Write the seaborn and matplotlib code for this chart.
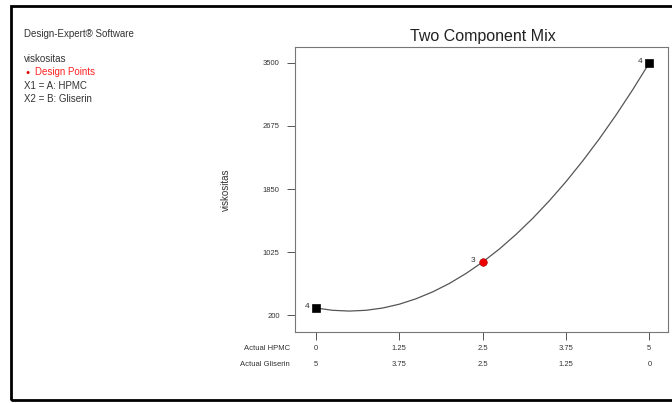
import matplotlib
matplotlib.use("Agg")
import matplotlib.pyplot as plt
import matplotlib.transforms as mtransforms
from matplotlib.patches import Rectangle
import seaborn as sns
import pandas as pd

# ---- data ----
hpmc_ticks = [0, 1.25, 2.5, 3.75, 5]
hpmc_labels = ["0", "1.25", "2.5", "3.75", "5"]
gliserin_labels = ["5", "3.75", "2.5", "1.25", "0"]
y_ticks = [200, 1025, 1850, 2675, 3500]

curve_x = [0, 0.25, 0.5, 0.75, 1, 1.25, 1.5, 1.75, 2, 2.25, 2.5,
           2.75, 3, 3.25, 3.5, 3.75, 4, 4.25, 4.5, 4.75, 5]
curve_y = [292, 262, 252, 262, 292, 342, 413, 503, 613, 744, 894,
           1064, 1255, 1465, 1696, 1946, 2217, 2507, 2818, 3149, 3500]

pts_x = [0, 5]
pts_y = [292, 3500]
pts_n = ["4", "4"]
red_x = [2.5]
red_y = [894]
red_n = ["3"]

sns.set_style("white")
plt.rcParams['font.family'] = ['Liberation Sans', 'DejaVu Sans']

fig = plt.figure(figsize=(6.72, 4.03), dpi=100)
ax = fig.add_axes([295/672, 1-332/403, (668-295)/672, (332-47)/403])

df_curve = pd.DataFrame({"x": curve_x, "y": curve_y})
sns.lineplot(data=df_curve, x="x", y="y", ax=ax, color="#555555", lw=0.9,
             sort=True, estimator=None)
sns.scatterplot(x=pts_x, y=pts_y, ax=ax, marker="s", color="black", s=36,
                edgecolor="black", zorder=5)
sns.scatterplot(x=red_x, y=red_y, ax=ax, marker="o", color="#ee0000", s=30,
                edgecolor="#aa0000", zorder=5)
for x, y, n in zip(pts_x + red_x, pts_y + red_y, pts_n + red_n):
    ax.annotate(n, (x, y), xytext=(-5, 1), textcoords="offset points",
                ha="right", va="center", fontsize=6, color="#333333")

ax.set_xlim(-0.315, 5.28)
ax.set_ylim(-22, 3709)
ax.set_xticks(hpmc_ticks)
ax.set_xticklabels(hpmc_labels, fontsize=5.5, color="#333333")
ax.set_yticks(y_ticks)
ax.set_yticklabels([str(v) for v in y_ticks], fontsize=5.5, color="#333333")
ax.tick_params(axis="both", bottom=True, left=True, direction="out",
               length=6, width=0.7, color="#555555")
ax.tick_params(axis="y", pad=5)
ax.tick_params(axis="x", pad=3)
for s in ax.spines.values():
    s.set_color("#777777")
    s.set_linewidth(0.8)
ax.set_xlabel("")
ax.set_ylabel("viskositas", fontsize=7, color="#333333", labelpad=23)

trans = mtransforms.blended_transform_factory(ax.transData, fig.transFigure)
for x, lab in zip(hpmc_ticks, gliserin_labels):
    ax.text(x, 1-364/403, lab, transform=trans, ha="center", va="center",
            fontsize=5.5, color="#333333")
fig.text(290/672, 1-348/403, "Actual HPMC", ha="right", va="center",
         fontsize=5.5, color="#333333")
fig.text(290/672, 1-364/403, "Actual Gliserin", ha="right", va="center",
         fontsize=5.5, color="#333333")

fig.text(483/672, 1-37/403, "Two Component Mix", ha="center", va="center",
         fontsize=11.5, color="#222222")

left_lines = [("Design-Expert\u00ae Software", 34, "#333333"),
              ("viskositas", 59, "#333333"),
              ("X1 = A: HPMC", 86, "#333333"),
              ("X2 = B: Gliserin", 99, "#333333")]
for t, y, c in left_lines:
    fig.text(24/672, 1-y/403, t, ha="left", va="center", fontsize=7, color=c)
fig.text(24/672, 1-72/403, " \u25cf", ha="left", va="center", fontsize=5,
         color="#dd0000")
fig.text(35/672, 1-72/403, "Design Points", ha="left", va="center",
         fontsize=7, color="#ff2222")

fig.patches.append(Rectangle((11/672, 1-400/403), 1.0, 394/403,
                             transform=fig.transFigure, fill=False,
                             edgecolor="black", lw=2, zorder=10))

fig.savefig("out.png", dpi=100)
